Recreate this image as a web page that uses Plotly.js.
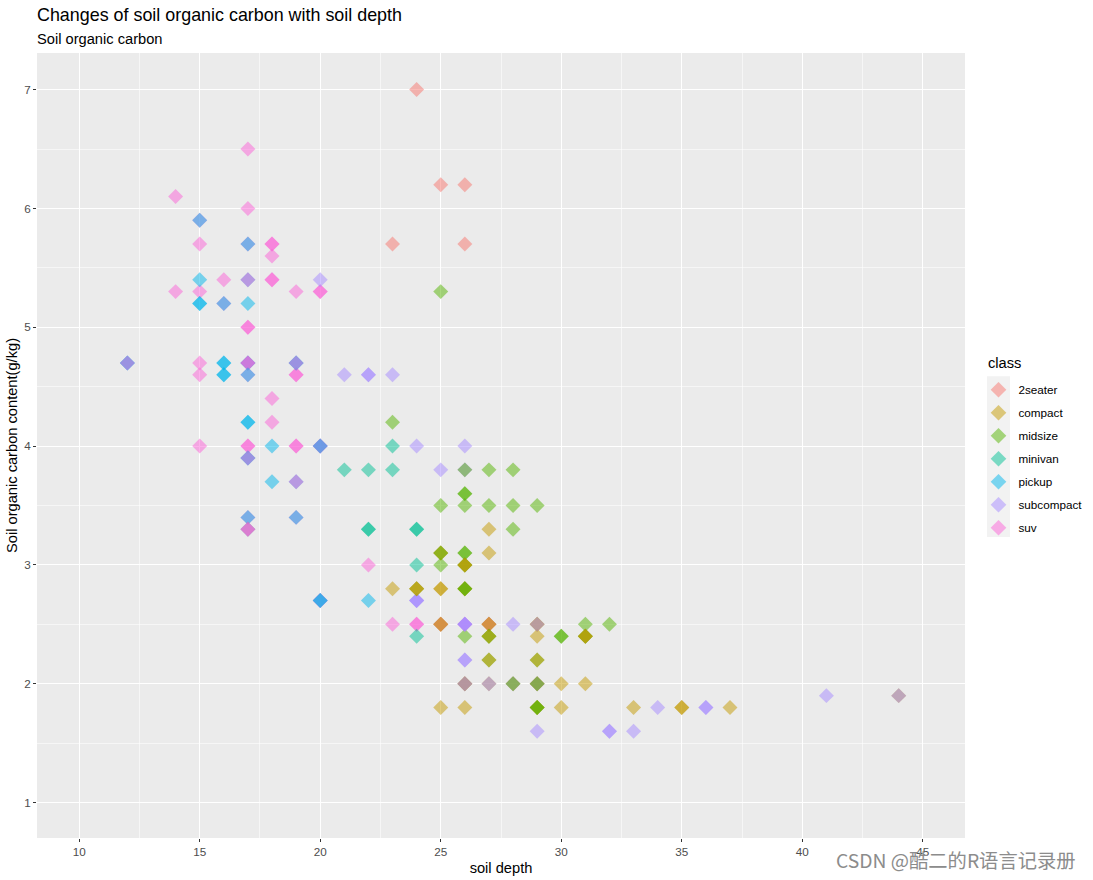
<!DOCTYPE html>
<html>
<head>
<meta charset="utf-8">
<script src="https://cdn.plot.ly/plotly-3.0.1.min.js"></script>
<style>
  html, body { margin: 0; padding: 0; background: #ffffff; }
  #chart { width: 1093px; height: 880px; }
</style>
</head>
<body>
<div id="chart"></div>
<script>
// ---- categories and colours ----
const classes = ['2seater', 'compact', 'midsize', 'minivan', 'pickup', 'subcompact', 'suv'];
const classColors = ['#F8766D', '#C49A00', '#53B400', '#00C094', '#00B6EB', '#A58AFF', '#FB61D7'];

// ---- x tick labels / y tick labels ----
const xTicks = [10, 15, 20, 25, 30, 35, 40, 45];
const yTicks = [1, 2, 3, 4, 5, 6, 7];

// ---- data: each location (soil depth, soil organic carbon) and the classes stacked on it (draw order) ----
const stackDepth = [
  24, 25, 26, 23, 26,
  14, 17, 17, 15, 18, 16, 14, 15, 19, 15, 15, 18, 18, 15, 22, 23,
  18, 18, 20, 17, 19, 17, 19, 24,
  15, 17, 18, 18, 22,
  15, 16, 16, 17,
  15, 17, 17, 16, 12, 17, 19, 17, 20, 17, 19, 17, 19, 20, 17,
  20, 21, 23, 24, 26, 25, 28, 41, 29, 33, 34,
  22, 26, 32, 36, 24,
  25, 23, 27, 28, 25, 26, 27, 28, 29, 28, 25, 31, 32, 26,
  26, 26, 30,
  27, 27, 23, 29, 30, 31, 25, 26, 30, 33, 37,
  35, 25,
  23, 21, 22, 23, 24, 24,
  22, 24,
  26, 26, 25, 26, 24, 25, 27, 26, 29, 27, 31, 27, 29, 26, 27, 28, 29, 29, 44
];
const stackCarbon = [
  7.0, 6.2, 6.2, 5.7, 5.7,
  6.1, 6.5, 6.0, 5.7, 5.6, 5.4, 5.3, 5.3, 5.3, 4.7, 4.6, 4.4, 4.2, 4.0, 3.0, 2.5,
  5.7, 5.4, 5.3, 5.0, 4.6, 4.0, 4.0, 2.5,
  5.4, 5.2, 4.0, 3.7, 2.7,
  5.2, 4.7, 4.6, 4.2,
  5.9, 5.7, 5.4, 5.2, 4.7, 4.7, 4.7, 4.6, 4.0, 3.9, 3.7, 3.4, 3.4, 2.7, 3.3,
  5.4, 4.6, 4.6, 4.0, 4.0, 3.8, 2.5, 1.9, 1.6, 1.6, 1.8,
  4.6, 2.2, 1.6, 1.8, 2.7,
  5.3, 4.2, 3.8, 3.8, 3.5, 3.5, 3.5, 3.5, 3.5, 3.3, 3.0, 2.5, 2.5, 2.4,
  3.6, 3.1, 2.4,
  3.3, 3.1, 2.8, 2.4, 2.0, 2.0, 1.8, 1.8, 1.8, 1.8, 1.8,
  1.8, 2.8,
  4.0, 3.8, 3.8, 3.8, 3.0, 2.4,
  3.3, 3.3,
  3.8, 3.0, 3.1, 2.8, 2.8, 2.5, 2.5, 2.5, 2.5, 2.4, 2.4, 2.2, 2.2, 2.0, 2.0, 2.0, 2.0, 1.8, 1.9
];
const stackClasses = [
  '2seater', '2seater', '2seater', '2seater', '2seater',
  'suv', 'suv', 'suv', 'suv', 'suv', 'suv', 'suv', 'suv', 'suv', 'suv', 'suv', 'suv', 'suv', 'suv', 'suv', 'suv',
  'suv suv', 'suv suv', 'suv suv', 'suv suv', 'suv suv', 'suv suv', 'suv suv', 'suv suv',
  'pickup', 'pickup', 'pickup', 'pickup', 'pickup',
  'pickup pickup', 'pickup pickup', 'pickup pickup', 'pickup pickup',
  'suv pickup', 'suv pickup', 'pickup suv', 'suv pickup', 'pickup pickup suv', 'pickup pickup suv suv',
  'pickup pickup suv', 'suv pickup', 'pickup suv suv pickup', 'pickup pickup suv', 'pickup suv',
  'suv pickup', 'suv pickup', 'suv suv pickup pickup', 'minivan suv suv',
  'subcompact', 'subcompact', 'subcompact', 'subcompact', 'subcompact', 'subcompact', 'subcompact',
  'subcompact', 'subcompact', 'subcompact', 'subcompact',
  'subcompact subcompact', 'subcompact subcompact', 'subcompact subcompact', 'subcompact subcompact',
  'subcompact subcompact subcompact',
  'midsize', 'midsize', 'midsize', 'midsize', 'midsize', 'midsize', 'midsize', 'midsize', 'midsize',
  'midsize', 'midsize', 'midsize', 'midsize', 'midsize',
  'midsize midsize', 'midsize midsize', 'midsize midsize',
  'compact', 'compact', 'compact', 'compact', 'compact', 'compact', 'compact', 'compact', 'compact',
  'compact', 'compact',
  'compact compact', 'compact compact',
  'minivan', 'minivan', 'minivan', 'minivan', 'minivan', 'minivan',
  'minivan minivan', 'minivan minivan',
  'subcompact midsize', 'midsize midsize compact compact', 'compact compact midsize',
  'compact compact midsize midsize', 'midsize compact compact', 'compact compact suv compact',
  'compact compact suv compact', 'suv subcompact subcompact subcompact', 'compact compact subcompact',
  'midsize midsize compact', 'midsize midsize compact compact', 'midsize compact', 'midsize compact',
  'subcompact compact compact subcompact', 'compact subcompact', 'compact subcompact midsize',
  'compact compact subcompact midsize', 'compact compact midsize midsize', 'compact subcompact'
];

// ---- expand into one point per observation, in drawing order ----
const px = [], py = [], pc = [];
stackClasses.forEach(function (s, i) {
  s.split(' ').forEach(function (cl) {
    px.push(stackDepth[i]);
    py.push(stackCarbon[i]);
    pc.push(classColors[classes.indexOf(cl)]);
  });
});

const FONT = 'Liberation Sans, Arial, Helvetica, sans-serif';
const MSIZE = 11.5;

const traces = [{
  type: 'scatter', mode: 'markers', x: px, y: py,
  marker: { symbol: 'diamond', size: MSIZE, color: pc, opacity: 0.5, line: { width: 0 } },
  showlegend: false, hoverinfo: 'skip', cliponaxis: true
}];
classes.forEach(function (c, i) {
  traces.push({
    type: 'scatter', mode: 'markers', x: [null], y: [null], name: c, legendgroup: c,
    marker: { symbol: 'diamond', size: MSIZE, color: classColors[i], opacity: 0.5, line: { width: 0 } },
    showlegend: true, hoverinfo: 'skip'
  });
});

const L = 36.7, R = 965, T = 52.7, B = 837.7, W = 1093, H = 880;
const pxToPaperX = function (v) { return (v - L) / (R - L); };
const pxToPaperY = function (v) { return (B - v) / (B - T); };

const layout = {
  width: W, height: H,
  paper_bgcolor: '#FFFFFF', plot_bgcolor: '#EBEBEB',
  font: { family: FONT, color: '#000000' },
  margin: { l: L, r: W - R, t: T, b: H - B, pad: 0, autoexpand: false },
  title: {
    text: 'Changes of soil organic carbon with soil depth',
    font: { size: 17.9, color: '#000000', family: FONT },
    xref: 'container', x: 37 / W, xanchor: 'left',
    yref: 'container', y: 1 - 14.5 / H, yanchor: 'middle'
  },
  xaxis: {
    range: [8.25, 46.75], tickmode: 'array', tickvals: xTicks, ticktext: xTicks.map(String),
    showgrid: true, gridcolor: '#FFFFFF', gridwidth: 1.07,
    minor: { dtick: 2.5, tick0: 10, showgrid: true, gridcolor: '#FFFFFF', gridwidth: 0.53, ticks: '' },
    ticks: 'outside', ticklen: 3, tickwidth: 1.07, tickcolor: '#333333',
    tickfont: { size: 11.7, color: '#4D4D4D', family: FONT },
    zeroline: false, showline: false, fixedrange: true,
    title: { text: 'soil depth', font: { size: 14.67, color: '#000000', family: FONT }, standoff: 5 }
  },
  yaxis: {
    range: [0.702, 7.308], tickmode: 'array', tickvals: yTicks, ticktext: yTicks.map(String),
    showgrid: true, gridcolor: '#FFFFFF', gridwidth: 1.07,
    minor: { dtick: 0.5, tick0: 1, showgrid: true, gridcolor: '#FFFFFF', gridwidth: 0.53, ticks: '' },
    ticks: 'outside', ticklen: 3, tickwidth: 1.07, tickcolor: '#333333',
    tickfont: { size: 11.7, color: '#4D4D4D', family: FONT },
    zeroline: false, showline: false, fixedrange: true,
    title: { text: 'Soil organic carbon content(g/kg)', font: { size: 14.67, color: '#000000', family: FONT }, standoff: 3 }
  },
  legend: {
    x: pxToPaperX(978.5), xanchor: 'left', y: pxToPaperY(375), yanchor: 'top',
    bgcolor: 'rgba(0,0,0,0)', borderwidth: 0,
    font: { size: 11.7, color: '#000000', family: FONT },
    itemsizing: 'constant', tracegroupgap: 4, traceorder: 'grouped'
  },
  shapes: [{
    type: 'rect', xref: 'paper', yref: 'paper', layer: 'below',
    x0: pxToPaperX(987), x1: pxToPaperX(1010), y0: pxToPaperY(536.7), y1: pxToPaperY(376),
    fillcolor: '#F2F2F2', line: { width: 0 }
  }],
  annotations: [{
    text: 'Soil organic carbon', showarrow: false,
    xref: 'paper', x: 0, xanchor: 'left', xshift: -2, yref: 'paper', y: pxToPaperY(38.7), yanchor: 'middle',
    font: { size: 14.67, color: '#000000', family: FONT }
  }, {
    text: 'class', showarrow: false,
    xref: 'paper', x: pxToPaperX(986), xanchor: 'left', yref: 'paper', y: pxToPaperY(363), yanchor: 'middle',
    font: { size: 14.67, color: '#000000', family: FONT }
  }, {
    text: 'CSDN @酷二的R语言记录册', showarrow: false,
    xref: 'paper', x: pxToPaperX(1078), xanchor: 'right', yref: 'paper', y: pxToPaperY(860), yanchor: 'middle',
    font: { size: 19.3, color: '#8C8C8C', family: 'Noto Sans CJK SC, Noto Sans, sans-serif' }
  }],
  hovermode: false
};

Plotly.newPlot('chart', traces, layout, { displayModeBar: false, staticPlot: true });
</script>
</body>
</html>
